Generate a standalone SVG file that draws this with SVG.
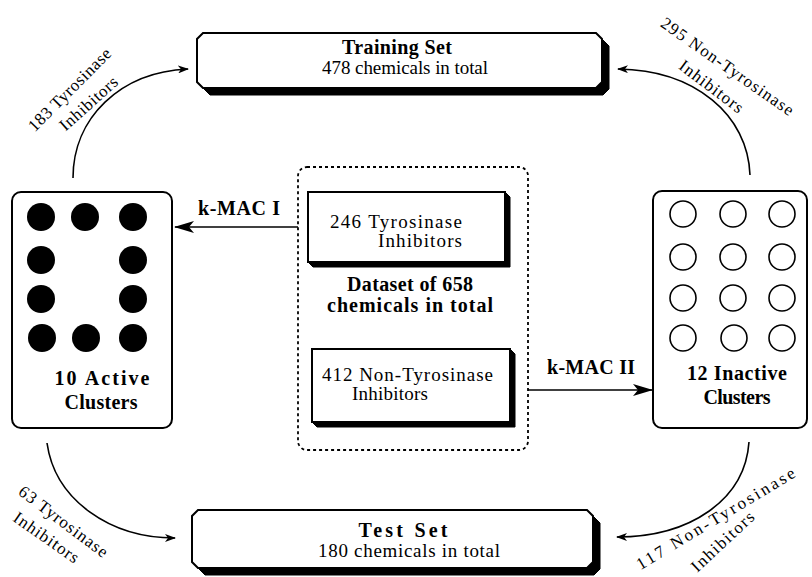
<svg xmlns="http://www.w3.org/2000/svg" width="812" height="577" viewBox="0 0 812 577">
<style>
  text { font-family: "Liberation Serif", "Times New Roman", serif; fill: #000; }
  .n { font-size: 19px; }
  .b { font-weight: bold; font-size: 20px; }
  .lab { font-size: 17px; }
  .frame { fill: #fff; stroke: #000; stroke-width: 2; }
  .shadow { fill: #000; stroke: #000; stroke-width: 1; }
  .con { fill: none; stroke: #000; stroke-width: 1.6; }
  .dot { fill: #000; }
  .ring { fill: #fff; stroke: #000; stroke-width: 1.6; }
</style>
<defs>
  <marker id="sm" markerWidth="11" markerHeight="8" refX="10" refY="4" orient="auto" markerUnits="userSpaceOnUse">
    <path d="M0,0 L11,4 L0,8 L3,4 z" fill="#000"/>
  </marker>
  <marker id="lg" markerWidth="20" markerHeight="12" refX="19" refY="6" orient="auto" markerUnits="userSpaceOnUse">
    <path d="M0,0 L20,6 L0,12 L5,6 z" fill="#000"/>
  </marker>
</defs>
<rect width="812" height="577" fill="#fff"/>

<g id="training-set">
  <polygon class="shadow" points="210,40 603,40 609,46 609,89 603,95 210,95 204,89 204,46"/>
  <polygon class="frame" points="203,33 596,33 602,39 602,82 596,88 203,88 197,82 197,39"/>
  <text class="n b" x="397" y="54" text-anchor="middle" textLength="110">Training Set</text>
  <text class="n" x="405" y="74" text-anchor="middle" textLength="166">478 chemicals in total</text>
</g>

<g id="test-set">
  <polygon class="shadow" points="205,517 594,517 600,523 600,569 594,575 205,575 199,569 199,523"/>
  <polygon class="frame" points="198,510 587,510 593,516 593,562 587,568 198,568 192,562 192,516"/>
  <text class="n b" x="403" y="537" text-anchor="middle" textLength="89">Test Set</text>
  <text class="n" x="409" y="557" text-anchor="middle" textLength="182">180 chemicals in total</text>
</g>

<g id="active-clusters">
  <rect class="frame" x="12" y="192" width="160" height="236" rx="9"/>
  <circle class="dot" cx="41" cy="217" r="14"/>
  <circle class="dot" cx="85" cy="217" r="14"/>
  <circle class="dot" cx="133" cy="217" r="14"/>
  <circle class="dot" cx="41" cy="260" r="14"/>
  <circle class="dot" cx="133" cy="260" r="14"/>
  <circle class="dot" cx="41" cy="299" r="14"/>
  <circle class="dot" cx="133" cy="299" r="14"/>
  <circle class="dot" cx="42" cy="338" r="14"/>
  <circle class="dot" cx="86" cy="338" r="14"/>
  <circle class="dot" cx="133" cy="338" r="14"/>
  <text class="n b" x="102" y="385" text-anchor="middle" textLength="95">10 Active</text>
  <text class="n b" x="101" y="409" text-anchor="middle" textLength="73">Clusters</text>
</g>

<g id="inactive-clusters">
  <rect class="frame" x="653" y="191" width="154" height="237" rx="9"/>
  <circle class="ring" cx="683" cy="214" r="13"/>
  <circle class="ring" cx="733" cy="214" r="13"/>
  <circle class="ring" cx="782" cy="214" r="13"/>
  <circle class="ring" cx="683" cy="257" r="13"/>
  <circle class="ring" cx="733" cy="257" r="13"/>
  <circle class="ring" cx="782" cy="257" r="13"/>
  <circle class="ring" cx="683" cy="298" r="13"/>
  <circle class="ring" cx="733" cy="298" r="13"/>
  <circle class="ring" cx="782" cy="298" r="13"/>
  <circle class="ring" cx="683" cy="338" r="13"/>
  <circle class="ring" cx="734" cy="338" r="13"/>
  <circle class="ring" cx="782" cy="338" r="13"/>
  <text class="n b" x="737" y="380" text-anchor="middle" textLength="100">12 Inactive</text>
  <text class="n b" x="737" y="404" text-anchor="middle" textLength="67">Clusters</text>
</g>

<g id="dataset">
  <rect x="298" y="167" width="230" height="283" rx="9" fill="none" stroke="#000" stroke-width="1.8" stroke-dasharray="3,3"/>
  <text class="n b" x="410" y="291" text-anchor="middle" textLength="126">Dataset of 658</text>
  <text class="n b" x="410" y="312" text-anchor="middle" textLength="166">chemicals in total</text>
</g>

<g id="tyrosinase-inhibitors">
  <polygon class="shadow" points="308,262 505,262 505,192 510,197 510,267 313,267"/>
  <rect class="frame" x="308" y="192" width="197" height="70"/>
  <text class="n" x="330" y="228" textLength="132">246 Tyrosinase</text>
  <text class="n" x="378" y="247" textLength="84">Inhibitors</text>
</g>

<g id="non-tyrosinase-inhibitors">
  <polygon class="shadow" points="312,422 510,422 510,349 515,354 515,427 317,427"/>
  <rect class="frame" x="312" y="349" width="198" height="73"/>
  <text class="n" x="322" y="381" textLength="171">412 Non-Tyrosinase</text>
  <text class="n" x="352" y="400" textLength="76">Inhibitors</text>
</g>

<g id="connectors">
  <path class="con" d="M298,227 L175,227" marker-end="url(#lg)"/>
  <path class="con" d="M528,390 L652,390" marker-end="url(#lg)"/>
  <path class="con" d="M73,178 C73,118 120,72 188,69" marker-end="url(#sm)"/>
  <path class="con" d="M750,175 C748,115 695,70 618,69" marker-end="url(#sm)"/>
  <path class="con" d="M47,443 C55,500 110,538 175,538" marker-end="url(#sm)"/>
  <path class="con" d="M749,442 C745,500 690,537 617,537" marker-end="url(#sm)"/>
  <text class="n b" x="239" y="215" text-anchor="middle" textLength="82">k-MAC I</text>
  <text class="n b" x="591" y="374" text-anchor="middle" textLength="88">k-MAC II</text>
  <g transform="translate(70,90) rotate(-45)"><text class="lab" x="0" y="5" text-anchor="middle" textLength="110">183 Tyrosinase</text></g>
  <g transform="translate(89,104) rotate(-42)"><text class="lab" x="0" y="5" text-anchor="middle" textLength="72">Inhibitors</text></g>
  <g transform="translate(727,67) rotate(35)"><text class="lab" x="0" y="5" text-anchor="middle" textLength="158">295 Non-Tyrosinase</text></g>
  <g transform="translate(711,87) rotate(37)"><text class="lab" x="0" y="5" text-anchor="middle" textLength="76">Inhibitors</text></g>
  <g transform="translate(63,522) rotate(37)"><text class="lab" x="0" y="5" text-anchor="middle" textLength="107">63 Tyrosinase</text></g>
  <g transform="translate(46,538) rotate(35)"><text class="lab" x="0" y="5" text-anchor="middle" textLength="76">Inhibitors</text></g>
  <g transform="translate(716,519) rotate(-31)"><text class="lab" x="0" y="5" text-anchor="middle" textLength="182">117 Non-Tyrosinase</text></g>
  <g transform="translate(723,542) rotate(-43)"><text class="lab" x="0" y="5" text-anchor="middle" textLength="80">Inhibitors</text></g>
</g>
</svg>
